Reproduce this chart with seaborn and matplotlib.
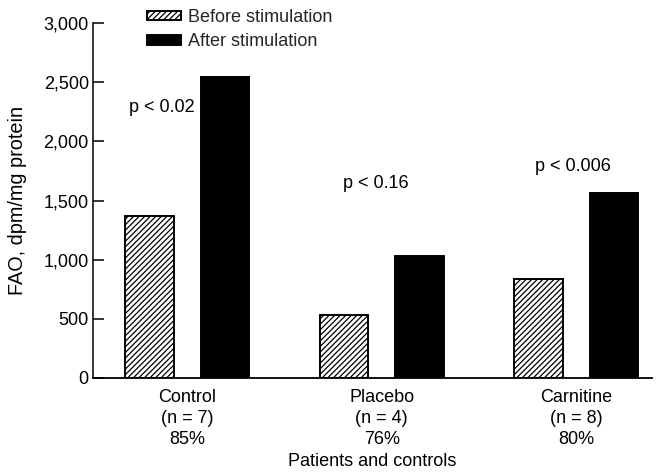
import matplotlib
matplotlib.use("Agg")
import matplotlib.pyplot as plt
import seaborn as sns
import pandas as pd
from matplotlib.ticker import FuncFormatter

groups = ["Control\n(n = 7)\n85%", "Placebo\n(n = 4)\n76%", "Carnitine\n(n = 8)\n80%"]
before = [1370, 530, 835]
after = [2540, 1035, 1565]
conditions = ["Before stimulation", "After stimulation"]
p_labels = ["p < 0.02", "p < 0.16", "p < 0.006"]
p_pos = [(-0.13, 2290), (0.97, 1640), (1.985, 1790)]

df = pd.DataFrame({
    "group": groups * 2,
    "condition": [conditions[0]] * 3 + [conditions[1]] * 3,
    "value": before + after,
})

sns.set_style("ticks")
plt.rcParams["font.family"] = ["Liberation Sans", "DejaVu Sans"]
plt.rcParams["hatch.linewidth"] = 0.9

FS = 13

fig = plt.figure(figsize=(6.56, 4.75), dpi=100)
ax = fig.add_axes([93 / 656, 1 - 378 / 475, (652 - 93) / 656, (378 - 23) / 475])

sns.barplot(data=df, x="group", y="value", hue="condition", order=groups,
            hue_order=conditions, palette=["white", "black"], width=0.78, gap=0.36,
            edgecolor="black", linewidth=1.4, legend=False, ax=ax)

for bar in ax.containers[0]:
    bar.set_hatch("//////")

ax.set_ylim(0, 3000)
ax.set_xlim(-0.485, 2.39)
ax.set_yticks([0, 500, 1000, 1500, 2000, 2500, 3000])
ax.yaxis.set_major_formatter(FuncFormatter(lambda v, p: f"{v:,.0f}"))
ax.tick_params(axis="y", direction="in", length=8, width=1.1, pad=3, labelsize=FS, colors="black")
ax.tick_params(axis="x", length=0, pad=8, labelsize=FS, colors="black")
for lbl in ax.get_xticklabels():
    lbl.set_linespacing(1.3)
sns.despine(ax=ax)
ax.spines["left"].set_linewidth(1.1)
ax.spines["bottom"].set_linewidth(1.3)
ax.spines["left"].set_color("black")
ax.spines["bottom"].set_color("black")

ax.set_ylabel("FAO, dpm/mg protein", fontsize=14.3, labelpad=12, color="black")
ax.set_xlabel("Patients and controls", fontsize=FS, labelpad=4, color="black")

for txt, (x, y) in zip(p_labels, p_pos):
    ax.text(x, y, txt, ha="center", va="center", fontsize=FS, color="black")

leg = ax.legend(ax.containers, conditions, loc="upper left",
                bbox_to_anchor=(147 / 656, 1 - 9 / 475), bbox_transform=fig.transFigure,
                frameon=False, fontsize=FS, borderpad=0, borderaxespad=0,
                handlelength=1.9, handleheight=0.45, handletextpad=0.35, labelspacing=0.4)

fig.savefig("out.png", dpi=100)
